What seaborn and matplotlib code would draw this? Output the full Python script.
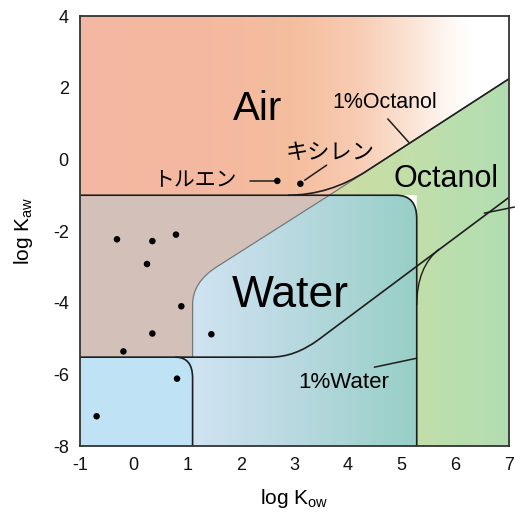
import numpy as np
import matplotlib
matplotlib.use("Agg")
import matplotlib.pyplot as plt
from matplotlib.path import Path
from matplotlib.patches import PathPatch
from matplotlib.colors import LinearSegmentedColormap
import seaborn as sns

# chemicals (log Kow, log Kaw)
kow_points = [-0.31, 0.35, 0.79, 0.25, 0.89, 0.35, 1.45, -0.19, 0.81, -0.69]
kaw_points = [-2.23, -2.28, -2.10, -2.92, -4.10, -4.86, -4.88, -5.36, -6.12, -7.17]
named_names = ["トルエン", "キシレン"]
named_kow = [2.68, 3.11]
named_kaw = [-0.60, -0.68]

# boundaries of the domains
air_kaw = -1.0            # air / water-rich boundary
water_kow = 5.28          # 1% water limit in Kow
octanol_kow = 1.1         # left edge of water region
air1_kaw = -5.52          # 1% air, low Kow part
diag_oct_x = [1.55, 3.65, 7.0]     # air / octanol line
diag_oct_y = [-3.0, -1.0, 2.25]
diag_air_x = [2.55, 3.01, 3.45, 7.0]   # 1% air line (start, corner, end of bend, right)
diag_air_y = [-5.52, -5.52, -5.03, -1.06]

xticks = list(range(-1, 8))
yticks = list(range(-8, 5, 2))

sns.set_theme(style="white")
plt.rcParams["font.family"] = ["Liberation Sans", "Noto Sans CJK JP", "DejaVu Sans"]
plt.rcParams["mathtext.fontset"] = "custom"
plt.rcParams["mathtext.rm"] = "Liberation Sans"
plt.rcParams["axes.unicode_minus"] = False
plt.rcParams["text.color"] = "black"
plt.rcParams["axes.labelcolor"] = "black"

fig = plt.figure(figsize=(5.15, 5.13), dpi=100)
ax = fig.add_axes([0.1553, 0.1306, 0.833, 0.838])
ax.set_xlim(-1, 7)
ax.set_ylim(-8, 4)

M, L, C3, CL = Path.MOVETO, Path.LINETO, Path.CURVE3, Path.CLOSEPOLY
corner_y = diag_oct_y[0] - (diag_oct_x[0] - octanol_kow) * 0.95


def gradient_fill(path, stops, x0, x1, y0, y1):
    cmap = LinearSegmentedColormap.from_list(
        "g", [((s - x0) / (x1 - x0), c) for s, c in stops])
    grad = np.linspace(0, 1, 256).reshape(1, -1)
    im = ax.imshow(grad, cmap=cmap, extent=[x0, x1, y0, y1], aspect="auto",
                   origin="lower", zorder=1, interpolation="bilinear")
    patch = PathPatch(path, facecolor="none", edgecolor="none")
    ax.add_patch(patch)
    im.set_clip_path(patch)


# air
air_path = Path([(-1, air_kaw), (diag_oct_x[1], diag_oct_y[1]), (diag_oct_x[2], diag_oct_y[2]),
                 (7, 4), (-1, 4), (-1, air_kaw)], [M, L, L, L, L, CL])
gradient_fill(air_path, [(-1, "#F4B8A3"), (1.5, "#F4B9A0"), (3.0, "#F5BE9E"),
                         (4.2, "#F8CCB3"), (5.2, "#FBE4D6"), (5.8, "#FEF5EF"),
                         (6.3, "#FFFFFF"), (7, "#FFFFFF")], -1, 7, air_kaw, 4)

# octanol
oct_path = Path([(diag_oct_x[1], diag_oct_y[1]), (diag_oct_x[2], diag_oct_y[2]), (7, -8),
                 (water_kow, -8), (water_kow, air_kaw), (diag_oct_x[1], diag_oct_y[1])],
                [M, L, L, L, L, CL])
gradient_fill(oct_path, [(3.6, "#CCDDA3"), (5.0, "#C4DEA8"), (6.0, "#BADFAE"),
                         (7, "#B2DDB1")], 3.6, 7, -8, 2.3)

# air + water overlap (brown)
brown_path = Path([(-1, air_kaw), (diag_oct_x[1], diag_oct_y[1]), (diag_oct_x[0], diag_oct_y[0]),
                   (octanol_kow, corner_y), (octanol_kow, -4.05), (octanol_kow, air1_kaw),
                   (-1, air1_kaw), (-1, air_kaw)], [M, L, L, C3, C3, L, L, CL])
ax.add_patch(PathPatch(brown_path, facecolor="#D3C0B8", edgecolor="none", zorder=1))

# water only (light blue)
lb_path = Path([(-1, air1_kaw), (octanol_kow, air1_kaw), (octanol_kow, -8), (-1, -8),
                (-1, air1_kaw)], [M, L, L, L, CL])
ax.add_patch(PathPatch(lb_path, facecolor="#BFE3F4", edgecolor="none", zorder=1))

# water + octanol region
water_path = Path([(octanol_kow, -8), (octanol_kow, -4.05), (octanol_kow, corner_y),
                   (diag_oct_x[0], diag_oct_y[0]), (diag_oct_x[1], diag_oct_y[1]),
                   (4.9, air_kaw), (water_kow, air_kaw), (water_kow, -1.65),
                   (water_kow, -8), (octanol_kow, -8)], [M, L, C3, C3, L, L, C3, C3, L, CL])
gradient_fill(water_path, [(1.1, "#D0E3F2"), (3.0, "#B8D9E0"), (5.28, "#97CFC6")],
              1.1, 5.28, -8, -1)

# gray boundary of water region and air/octanol line
gray_path = Path([(octanol_kow, air1_kaw), (octanol_kow, -4.05), (octanol_kow, corner_y),
                  (diag_oct_x[0], diag_oct_y[0]), (diag_oct_x[1], diag_oct_y[1]),
                  (diag_oct_x[2], diag_oct_y[2])], [M, L, C3, C3, L, L])
ax.add_patch(PathPatch(gray_path, facecolor="none", edgecolor="#707A7C", lw=0.9, zorder=2))

line_kw = dict(facecolor="none", edgecolor="#1E1E1E", lw=1.2, zorder=3)
# 1% water contour (rounded rectangle)
ax.add_patch(PathPatch(Path([(-1, air_kaw), (4.9, air_kaw), (water_kow, air_kaw),
                             (water_kow, -1.65), (water_kow, -8)], [M, L, C3, C3, L]), **line_kw))
# 1% air contour
ax.add_patch(PathPatch(Path([(-1, air1_kaw), (diag_air_x[0], diag_air_y[0]),
                             (diag_air_x[1], diag_air_y[1]), (diag_air_x[2], diag_air_y[2]),
                             (diag_air_x[3], diag_air_y[3])], [M, L, C3, C3, L]), **line_kw))
# 1% octanol contour
ax.add_patch(PathPatch(Path([(2.88, air_kaw), (diag_oct_x[1], diag_oct_y[1]), (4.35, -0.32),
                             (diag_oct_x[2], diag_oct_y[2])], [M, C3, C3, L]), **line_kw))
# corner in the light blue area
ax.add_patch(PathPatch(Path([(0.78, air1_kaw), (octanol_kow, air1_kaw), (octanol_kow, -6.1),
                             (octanol_kow, -8)], [M, C3, C3, L]), **line_kw))
# bend near Kow 5.3
ax.add_patch(PathPatch(Path([(water_kow, -4.07), (water_kow, -3.0), (5.7, -2.5)],
                            [M, C3, C3]), facecolor="none", edgecolor="#1E1E1E", lw=1.0, zorder=3))

# chemicals
sns.scatterplot(x=kow_points, y=kaw_points, color="black", s=22, edgecolor="none",
                ax=ax, zorder=5, legend=False)
sns.scatterplot(x=named_kow, y=named_kaw, color="black", s=22, edgecolor="none",
                ax=ax, zorder=5, legend=False)

# leader lines
lk = dict(color="#1E1E1E", lw=1.1, zorder=4, clip_on=False)
ax.plot([2.17, named_kow[0] - 0.02], [named_kaw[0], named_kaw[0]], **lk)
ax.plot([3.19, 3.60], [-0.58, -0.16], **lk)
ax.plot([4.74, 5.13], [1.13, 0.48], **lk)
ax.plot([4.49, water_kow], [-5.80, -5.55], **lk)
ax.plot([6.54, 7.1], [-1.50, -1.33], **lk)

# labels
ax.text(2.31, 1.10, "Air", fontsize=29, ha="center", va="baseline", zorder=6)
ax.text(2.93, -4.12, "Water", fontsize=32, ha="center", va="baseline", zorder=6)
ax.text(5.82, -0.77, "Octanol", fontsize=22, ha="center", va="baseline", zorder=6)
ax.text(4.68, 1.43, "1%Octanol", fontsize=15.5, ha="center", va="baseline", zorder=6)
ax.text(3.92, -6.38, "1%Water", fontsize=16, ha="center", va="baseline", zorder=6)
ax.text(1.14, -0.55, named_names[0], fontsize=15, ha="center", va="center",
        family=["Noto Sans CJK JP"], zorder=6)
ax.text(3.67, 0.18, named_names[1], fontsize=16, ha="center", va="center",
        family=["Noto Sans CJK JP"], zorder=6)

# axes
ax.set_xticks(xticks)
ax.set_yticks(yticks)
ax.set_xticks([1, 3, 6], minor=True)
ax.set_yticks([2, -6], minor=True)
ax.tick_params(which="major", length=0, labelsize=13, pad=8, labelcolor="#111111")
ax.tick_params(which="minor", direction="in", length=5, width=1, color="#666666",
               top=True, bottom=True, left=True, right=True)
for sp in ax.spines.values():
    sp.set_color("#333333")
    sp.set_linewidth(1.3)
    sp.set_zorder(7)
ax.set_xlabel(r"log K$_\mathregular{ow}$", fontsize=15, labelpad=9)
ax.set_ylabel(r"log K$_\mathregular{aw}$", fontsize=15, labelpad=13)

fig.savefig("out.png", dpi=100)
